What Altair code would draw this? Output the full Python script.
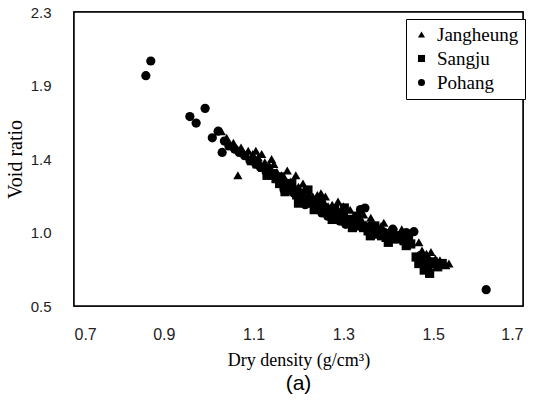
import altair as alt
import pandas as pd

# ---- data ----
series_names = ["Jangheung", "Sangju", "Pohang"]
series_shapes = ["triangle-up", "square", "circle"]

jang_x = [1.028, 1.040, 1.055, 1.065, 1.072, 1.088, 1.098, 1.110, 1.118, 1.125, 1.135, 1.145,
          1.152, 1.162, 1.170, 1.182, 1.194, 1.200, 1.212, 1.222, 1.232, 1.242, 1.250, 1.258,
          1.266, 1.275, 1.288, 1.296, 1.305, 1.315, 1.322, 1.332, 1.342, 1.350, 1.361, 1.370,
          1.384, 1.392, 1.402, 1.412, 1.420, 1.432, 1.442, 1.450, 1.468, 1.475, 1.485, 1.495,
          1.505, 1.515, 1.528, 1.535,
          1.105, 1.140, 1.175, 1.210, 1.260, 1.300, 1.345, 1.390, 1.430]
jang_y = [1.57, 1.53, 1.50, 1.30, 1.47, 1.45, 1.43, 1.41, 1.43, 1.38, 1.36, 1.37,
          1.32, 1.30, 1.28, 1.26, 1.30, 1.23, 1.21, 1.19, 1.17, 1.18, 1.19, 1.13,
          1.11, 1.12, 1.14, 1.08, 1.06, 1.09, 1.04, 1.05, 1.02, 1.00, 1.04, 0.98,
          0.99, 0.96, 0.94, 0.95, 0.92, 0.91, 0.93, 0.89, 0.89, 0.84, 0.82, 0.83,
          0.79, 0.78, 0.75, 0.76,
          1.45, 1.40, 1.33, 1.25, 1.17, 1.11, 1.06, 1.01, 0.97]

sang_x = [1.095, 1.108, 1.120, 1.132, 1.142, 1.150, 1.158, 1.168, 1.178, 1.188, 1.196, 1.205,
          1.215, 1.221, 1.228, 1.238, 1.246, 1.255, 1.262, 1.272, 1.280, 1.286, 1.295, 1.302,
          1.310, 1.318, 1.328, 1.336, 1.345, 1.355, 1.365, 1.375, 1.385, 1.395, 1.405, 1.415,
          1.425, 1.435, 1.445, 1.462, 1.468, 1.475, 1.480, 1.488, 1.492, 1.500, 1.510, 1.520,
          1.160, 1.185, 1.250, 1.300, 1.330, 1.370, 1.410, 1.450,
          1.130, 1.170, 1.200, 1.235, 1.275, 1.320, 1.360, 1.400, 1.440]
sang_y = [1.39, 1.37, 1.35, 1.33, 1.31, 1.28, 1.25, 1.24, 1.22, 1.21, 1.18, 1.16,
          1.15, 1.21, 1.13, 1.12, 1.14, 1.10, 1.08, 1.07, 1.09, 1.05, 1.04, 1.10,
          1.03, 1.01, 1.02, 0.99, 0.98, 0.96, 0.97, 0.94, 0.93, 0.92, 0.91, 0.93,
          0.91, 0.90, 0.91, 0.80, 0.76, 0.78, 0.72, 0.75, 0.70, 0.77, 0.74, 0.76,
          1.29, 1.25, 1.15, 1.07, 1.05, 0.99, 0.95, 0.88,
          1.30, 1.20, 1.13, 1.09, 1.03, 0.98, 0.93, 0.89, 0.87]

poh_x = [0.860, 0.871, 0.958, 0.972, 0.992, 1.008, 1.021, 1.030, 1.035, 1.045, 1.058, 1.068,
         1.080, 1.092, 1.105, 1.115, 1.128, 1.140, 1.155, 1.168, 1.178, 1.190, 1.205, 1.215,
         1.225, 1.240, 1.252, 1.265, 1.278, 1.292, 1.305, 1.320, 1.338, 1.348, 1.360, 1.375,
         1.392, 1.410, 1.428, 1.440, 1.457, 1.472, 1.488, 1.498, 1.618]
poh_y = [1.91, 2.00, 1.66, 1.62, 1.71, 1.53, 1.57, 1.44, 1.51, 1.48, 1.46, 1.44,
         1.42, 1.39, 1.37, 1.35, 1.32, 1.30, 1.27, 1.21, 1.23, 1.19, 1.19, 1.12,
         1.14, 1.10, 1.07, 1.05, 1.04, 1.02, 1.00, 1.03, 1.09, 1.10, 0.99, 0.96,
         0.95, 0.97, 0.93, 0.95, 0.955, 0.81, 0.78, 0.76, 0.60]

x_ticks = [0.7, 0.9, 1.1, 1.3, 1.5, 1.7]
y_ticks = [0.5, 0.95, 1.4, 1.85, 2.3]
y_tick_labels = ["0.5", "1.0", "1.4", "1.9", "2.3"]
x_domain = [0.7, 1.7]
y_domain = [0.5, 2.3]

rows = []
for name, xs, ys in [("Jangheung", jang_x, jang_y), ("Sangju", sang_x, sang_y), ("Pohang", poh_x, poh_y)]:
    for a, b in zip(xs, ys):
        rows.append({"series": name, "x": a, "y": b})
df = pd.DataFrame(rows)

frame_df = pd.DataFrame({"x0": [x_domain[0]], "x1": [x_domain[1]],
                         "y0": [y_domain[0]], "y1": [y_domain[1]]})

# label expression mapping tick values to printed labels
expr = "''"
for v, lab in reversed(list(zip(y_ticks, y_tick_labels))):
    expr = f"(abs(datum.value - {v}) < 0.001 ? '{lab}' : {expr})"

W, H = 449, 294

xscale = alt.Scale(domain=x_domain, nice=False, zero=False)
yscale = alt.Scale(domain=y_domain, nice=False, zero=False)

x_axis = alt.Axis(values=x_ticks, format=".1f", title="Dry density (g/cm³)",
                  grid=False, domain=False, ticks=False, tickSize=0,
                  labelFont="Liberation Sans", labelFontSize=16, labelColor="#222",
                  labelPadding=20, titleFont="Liberation Serif", titleFontSize=18,
                  titleFontWeight="normal", titleColor="black", titlePadding=9)
y_axis = alt.Axis(values=y_ticks, labelExpr=expr, title="Void ratio",
                  grid=False, domain=False, ticks=False, tickSize=0,
                  labelFont="Liberation Sans", labelFontSize=15, labelColor="#222",
                  labelPadding=23, titleFont="Liberation Serif", titleFontSize=20,
                  titleFontWeight="normal", titleColor="black", titlePadding=5)

frame = alt.Chart(frame_df).mark_rect(
    fill="white", stroke="#000000", strokeWidth=1.5, strokeOpacity=1
).encode(
    x=alt.X("x0:Q", scale=xscale, axis=x_axis),
    x2="x1:Q",
    y=alt.Y("y0:Q", scale=yscale, axis=y_axis),
    y2="y1:Q",
)

points = alt.Chart(df).mark_point(filled=True, size=85, opacity=1).encode(
    x=alt.X("x:Q", scale=xscale, axis=x_axis),
    y=alt.Y("y:Q", scale=yscale, axis=y_axis),
    shape=alt.Shape("series:N",
                    scale=alt.Scale(domain=series_names, range=series_shapes),
                    legend=alt.Legend(title=None, orient="none", legendX=332, legendY=7,
                                      strokeColor="black", fillColor="white", padding=6,
                                      labelFont="Liberation Serif", labelFontSize=19,
                                      labelColor="black", symbolSize=50,
                                      symbolFillColor="black", symbolStrokeColor="black",
                                      rowPadding=4, labelOffset=6)),
    color=alt.value("black"),
)

chart = alt.layer(frame, points).properties(
    width=W, height=H,
    background="white",
    title=alt.TitleParams("(a)", orient="bottom", anchor="middle", font="Liberation Sans",
                          fontSize=21, fontWeight="normal", color="black", offset=4),
).configure_view(stroke="black", strokeWidth=1.5)

chart.save("out.html", embed_options={"renderer": "svg", "actions": False})
